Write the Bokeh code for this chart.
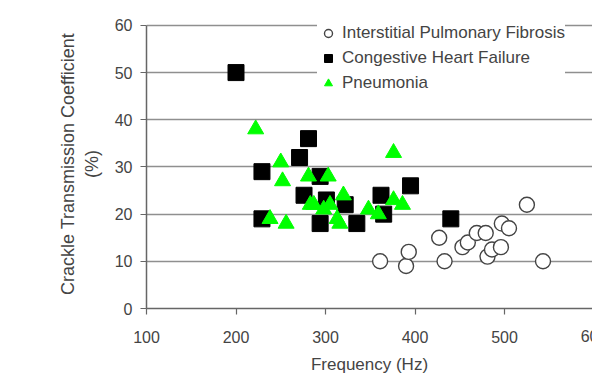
from bokeh.plotting import figure
from bokeh.models import Legend, LegendItem, FixedTicker, Label
from bokeh.embed import file_html
from bokeh.resources import INLINE

# Interstitial Pulmonary Fibrosis
ipf_freq = [361, 390, 393, 427, 433, 453, 459, 469, 479, 481, 486, 496, 497, 505, 525, 543]
ipf_ctc = [10, 9, 12, 15, 10, 13, 14, 16, 16, 11, 12.5, 13, 18, 17, 22, 10]

# Congestive Heart Failure
chf_freq = [200, 229, 229, 271, 276, 281, 294, 294, 301, 322, 335, 362, 365, 395, 440]
chf_ctc = [50, 29, 19, 32, 24, 36, 28, 18, 23, 22, 18, 24, 20, 26, 19]

# Pneumonia
pn_freq = [222, 250, 252, 238, 256, 281, 303, 287, 283, 298, 305, 313, 320, 316, 348, 359, 376, 376, 386]
pn_ctc = [38, 31, 27, 19, 18, 28, 28, 22, 22, 21, 22, 19, 24, 18, 21, 20, 23, 33, 22]

x_ticks = [100, 200, 300, 400, 500]
x_last_tick = 600
y_ticks = [0, 10, 20, 30, 40, 50, 60]

FONT = "Liberation Sans"
TXT = "#444444"

p = figure(width=592, height=376, x_range=(100, 598.3), y_range=(0, 61.25),
           output_backend="svg", toolbar_location=None,
           min_border_left=146, min_border_right=0, min_border_top=19, min_border_bottom=64)
p.outline_line_color = None
p.background_fill_color = "white"
p.border_fill_color = "white"

p.xgrid.grid_line_color = None
p.ygrid.grid_line_color = "#8f8f8f"
p.ygrid.grid_line_width = 1.5
p.ygrid.ticker = FixedTicker(ticks=y_ticks)

p.xaxis.ticker = FixedTicker(ticks=x_ticks)
p.yaxis.ticker = FixedTicker(ticks=y_ticks)
p.yaxis.bounds = (y_ticks[0], y_ticks[-1])
for ax in (p.xaxis, p.yaxis):
    ax.axis_line_color = "#666666"
    ax.axis_line_width = 1.5
    ax.major_tick_line_color = "#666666"
    ax.major_tick_line_width = 1.2
    ax.major_tick_out = 6
    ax.major_tick_in = 0
    ax.minor_tick_line_color = None
    ax.major_label_text_font = FONT
    ax.major_label_text_font_size = "16px"
    ax.major_label_text_color = TXT
    ax.axis_label_text_font = FONT
    ax.axis_label_text_font_style = "normal"
    ax.axis_label_text_color = TXT

p.xaxis.axis_label = "Frequency (Hz)"
p.xaxis.axis_label_text_font_size = "17px"
p.xaxis.major_label_standoff = 16
p.xaxis.axis_label_standoff = 9
p.yaxis.axis_label = "Crackle Transmission Coefficient\n(%)"
p.yaxis.axis_label_text_font_size = "18px"
p.yaxis.axis_label_text_line_height = 1.2
p.yaxis.major_label_standoff = 8
p.yaxis.axis_label_standoff = 10

# last x tick label, partly cut off by the page edge as in the original
p.add_layout(Label(x=x_last_tick, y=-27, x_units="data", y_units="screen",
                   text=str(x_last_tick), text_align="center", text_baseline="middle",
                   text_font=FONT, text_font_size="16px", text_color=TXT), "left")

r_ipf = p.scatter(ipf_freq, ipf_ctc, marker="circle", size=15, fill_color="white",
                  line_color="#444444", line_width=1.4)
r_chf = p.scatter(chf_freq, chf_ctc, marker="square", size=16, fill_color="black",
                  line_color="black", line_width=1)
r_pn = p.scatter(pn_freq, pn_ctc, marker="triangle", size=16, fill_color="#00ff00",
                 line_color="#00ff00", line_width=1)

legend = Legend(items=[
    LegendItem(label="Interstitial Pulmonary Fibrosis", renderers=[r_ipf]),
    LegendItem(label="Congestive Heart Failure", renderers=[r_chf]),
    LegendItem(label="Pneumonia", renderers=[r_pn]),
], location=(171, 215))
legend.padding = 0
legend.margin = 0
legend.spacing = 5
legend.glyph_width = 22
legend.glyph_height = 20
legend.label_height = 20
legend.label_standoff = 3
legend.label_text_font = FONT
legend.label_text_font_size = "17px"
legend.label_text_color = TXT
legend.border_line_color = None
legend.background_fill_color = "white"
legend.background_fill_alpha = 1.0
p.add_layout(legend, "center")

open("out.html", "w").write(file_html(p, INLINE))
